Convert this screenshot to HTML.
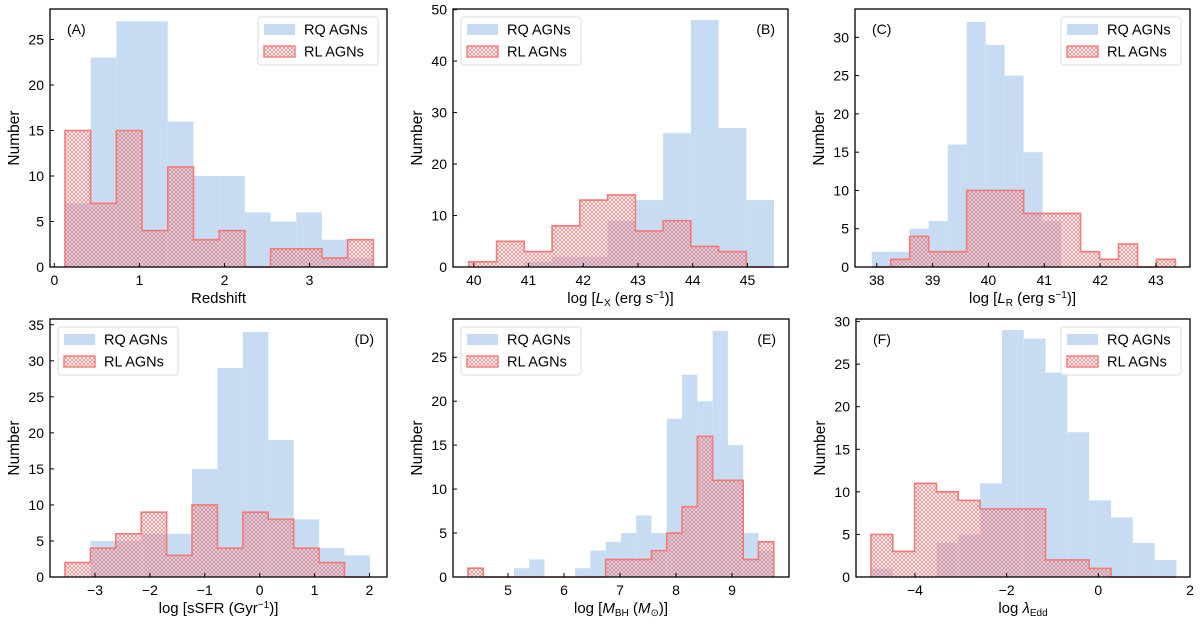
<!DOCTYPE html>
<html><head><meta charset="utf-8">
<style>
html,body{margin:0;padding:0;background:#fff;}
svg{display:block;font-family:"Liberation Sans",sans-serif;}
</style></head>
<body>
<svg id="fig" width="1200" height="631" viewBox="0 0 1200 631" xmlns="http://www.w3.org/2000/svg">
<defs>
<pattern id="hatch" patternUnits="userSpaceOnUse" width="4" height="4">
<path d="M0,0 L4,4 M4,0 L0,4" stroke="#f47a7a" stroke-width="0.7"/>
</pattern>
</defs>
</svg>
<script>
// Panel A: Redshift
const rqA = [7,23,27,27,16,10,10,6,5,6,3,1];
const rlA = [15,7,15,4,11,3,4,0,2,2,1,3];
// Panel B: log Lx
const rqB = [0,0,1,2,2,9,13,26,48,27,13];
const rlB = [1,5,3,8,13,14,7,9,4,3,0];
// Panel C: log LR
const rqC = [2,2,5,6,16,32,29,25,15,6,0,0,0,0,0,0];
const rlC = [0,1,4,2,2,10,10,10,7,7,7,2,1,3,0,1];
// Panel D: log sSFR
const rqD = [0,5,5,6,6,15,29,34,19,8,4,3];
const rlD = [2,4,6,9,3,10,4,9,8,4,2,0];
// Panel E: log MBH
const rqE = [0,0,0,1,2,0,0,1,3,4,5,7,5,18,23,20,28,15,5,3];
const rlE = [1,0,0,0,0,0,0,0,0,2,2,2,3,5,8,16,11,11,2,4];
// Panel F: log lambda Edd
const rqF = [1,0,0,4,5,11,29,28,24,17,9,7,4,2];
const rlF = [5,3,11,10,9,8,8,8,2,2,1,0,0,0];

const xTicksA = [0,1,2,3], yTicksA = [0,5,10,15,20,25];
const xTicksB = [40,41,42,43,44,45], yTicksB = [0,10,20,30,40,50];
const xTicksC = [38,39,40,41,42,43], yTicksC = [0,5,10,15,20,25,30];
const xTicksD = [-3,-2,-1,0,1,2], yTicksD = [0,5,10,15,20,25,30,35];
const xTicksE = [5,6,7,8,9], yTicksE = [0,5,10,15,20,25];
const xTicksF = [-4,-2,0,2], yTicksF = [0,5,10,15,20,25,30];

const panels = [
 {id:'a',box:[50,9,387,267],xd:[-0.051,3.91],yd:[0,28.35],e0:0.125,w:0.302,rq:rqA,rl:rlA,xt:xTicksA,yt:yTicksA,tag:'(A)',leg:'right',tagSide:'left',xl:'Redshift'},
 {id:'b',box:[453,9,788,267],xd:[39.62,45.74],yd:[0,50.13],e0:39.909,w:0.507,rq:rqB,rl:rlB,xt:xTicksB,yt:yTicksB,tag:'(B)',leg:'left',tagSide:'right',xl:'LX'},
 {id:'c',box:[855,9,1190,267],xd:[37.61,43.61],yd:[0,33.7],e0:37.91,w:0.340,rq:rqC,rl:rlC,xt:xTicksC,yt:yTicksC,tag:'(C)',leg:'right',tagSide:'left',xl:'LR'},
 {id:'d',box:[50,319,387,577],xd:[-3.82,2.32],yd:[0,35.8],e0:-3.547,w:0.463,rq:rqD,rl:rlD,xt:xTicksD,yt:yTicksD,tag:'(D)',leg:'left',tagSide:'right',xl:'SSFR'},
 {id:'e',box:[453,319,789,577],xd:[4.018,10.018],yd:[0,29.35],e0:4.286,w:0.273,rq:rqE,rl:rlE,xt:xTicksE,yt:yTicksE,tag:'(E)',leg:'left',tagSide:'right',xl:'MBH'},
 {id:'f',box:[856,319,1190,577],xd:[-5.287,2.0],yd:[0,30.3],e0:-4.96,w:0.476,rq:rqF,rl:rlF,xt:xTicksF,yt:yTicksF,tag:'(F)',leg:'right',tagSide:'left',xl:'EDD'}
];

const NS='http://www.w3.org/2000/svg';
const svg=document.getElementById('fig');
function mk(tag,attrs,parent){const el=document.createElementNS(NS,tag);for(const k in attrs)el.setAttribute(k,attrs[k]);(parent||svg).appendChild(el);return el;}
function fmt(v){return v<0?'\u2212'+Math.abs(v):String(v);}

const xLabels={
 'Redshift':'Redshift',
 'LX':'log [<tspan font-style="italic">L</tspan><tspan font-size="10" dy="3">X</tspan><tspan dy="-3"> (erg s</tspan><tspan font-size="10" dy="-5">\u22121</tspan><tspan dy="5">)]</tspan>',
 'LR':'log [<tspan font-style="italic">L</tspan><tspan font-size="10" dy="3">R</tspan><tspan dy="-3"> (erg s</tspan><tspan font-size="10" dy="-5">\u22121</tspan><tspan dy="5">)]</tspan>',
 'SSFR':'log [sSFR (Gyr<tspan font-size="10" dy="-5">\u22121</tspan><tspan dy="5">)]</tspan>',
 'MBH':'log [<tspan font-style="italic">M</tspan><tspan font-size="10" dy="3">BH</tspan><tspan dy="-3"> (</tspan><tspan font-style="italic">M</tspan><tspan font-size="10" dy="3">\u2299</tspan><tspan dy="-3">)]</tspan>',
 'EDD':'log <tspan font-style="italic">\u03bb</tspan><tspan font-size="10" dy="3">Edd</tspan>'
};

panels.forEach(p=>{
 const [L,T,R,B]=p.box;
 const g=mk('g',{});
 
 
 const sx=v=>L+(v-p.xd[0])/(p.xd[1]-p.xd[0])*(R-L);
 const sy=v=>B-(v-p.yd[0])/(p.yd[1]-p.yd[0])*(B-T);
 p.rq.forEach((v,i)=>{
  if(v<=0)return;
  const x0=sx(p.e0+i*p.w), x1=sx(p.e0+(i+1)*p.w);
  const r=mk('rect',{x:x0,y:sy(v),width:x1-x0,height:sy(0)-sy(v),fill:'#c7dcf2'},g);
  
  
 });
 let d='';
 p.rl.forEach((v,i)=>{
  const x0=sx(p.e0+i*p.w), x1=sx(p.e0+(i+1)*p.w);
  if(v>0){
   const r=mk('rect',{x:x0,y:sy(v),width:x1-x0,height:sy(0)-sy(v),fill:'url(#hatch)'},g);
   
   
  }
  d+=(i===0?'M'+x0+','+sy(0)+' L':' L')+x0+','+sy(v)+' L'+x1+','+sy(v);
 });
 const lastX=sx(p.e0+p.rl.length*p.w);
 d+=' L'+lastX+','+sy(0);
 const outline=mk('path',{d:d,fill:'none',stroke:'#f47a7a','stroke-width':1.6},g);
 
 
 const fr=mk('rect',{x:L,y:T,width:R-L,height:B-T,fill:'none',stroke:'#000','stroke-width':1.3},g);
 
 
 p.xt.forEach(v=>{
  const x=sx(v);
  mk('line',{x1:x,y1:B,x2:x,y2:B-4,stroke:'#000','stroke-width':1},g);
  const t=mk('text',{x:x,y:B+18,'text-anchor':'middle','font-size':14},g);
  t.textContent=fmt(v);
  
  
 });
 p.yt.forEach(v=>{
  const y=sy(v);
  mk('line',{x1:L,y1:y,x2:L+4,y2:y,stroke:'#000','stroke-width':1},g);
  const t=mk('text',{x:L-6,y:y+5,'text-anchor':'end','font-size':14},g);
  t.textContent=fmt(v);
  
  
 });
 const xl=mk('text',{x:(L+R)/2,y:B+36,'text-anchor':'middle','font-size':15},g);
 xl.innerHTML=xLabels[p.xl];
 
 
 const yl=mk('text',{x:0,y:0,'text-anchor':'middle','font-size':15.5,transform:'translate('+(L-31)+','+((T+B)/2)+') rotate(-90)'},g);
 yl.textContent='Number';
 
 
 const tg=mk('text',{x:p.tagSide==='left'?L+17:R-13,y:T+25,'text-anchor':p.tagSide==='left'?'start':'end','font-size':14},g);
 tg.textContent=p.tag;
 
 
 const lw=120, lh=48;
 const lx=p.leg==='left'?L+8:R-9-lw, ly=T+8;
 const lg=mk('g',{},g);
 
 
 mk('rect',{x:lx,y:ly,width:lw,height:lh,rx:3,fill:'#fff','fill-opacity':0.8,stroke:'#ddd','stroke-width':1},lg);
 const p1=mk('rect',{x:lx+6,y:ly+7,width:31,height:11,fill:'#c7dcf2'},lg);
 
 
 const t1=mk('text',{x:lx+46,y:ly+17.5,'font-size':14.5},lg);
 t1.textContent='RQ AGNs';
 
 
 const p2=mk('rect',{x:lx+6,y:ly+29,width:31,height:11,fill:'url(#hatch)',stroke:'#f47a7a','stroke-width':1.4},lg);
 
 
 const t2=mk('text',{x:lx+46,y:ly+39.5,'font-size':14.5},lg);
 t2.textContent='RL AGNs';
 
 
});
</script>
</body></html>
